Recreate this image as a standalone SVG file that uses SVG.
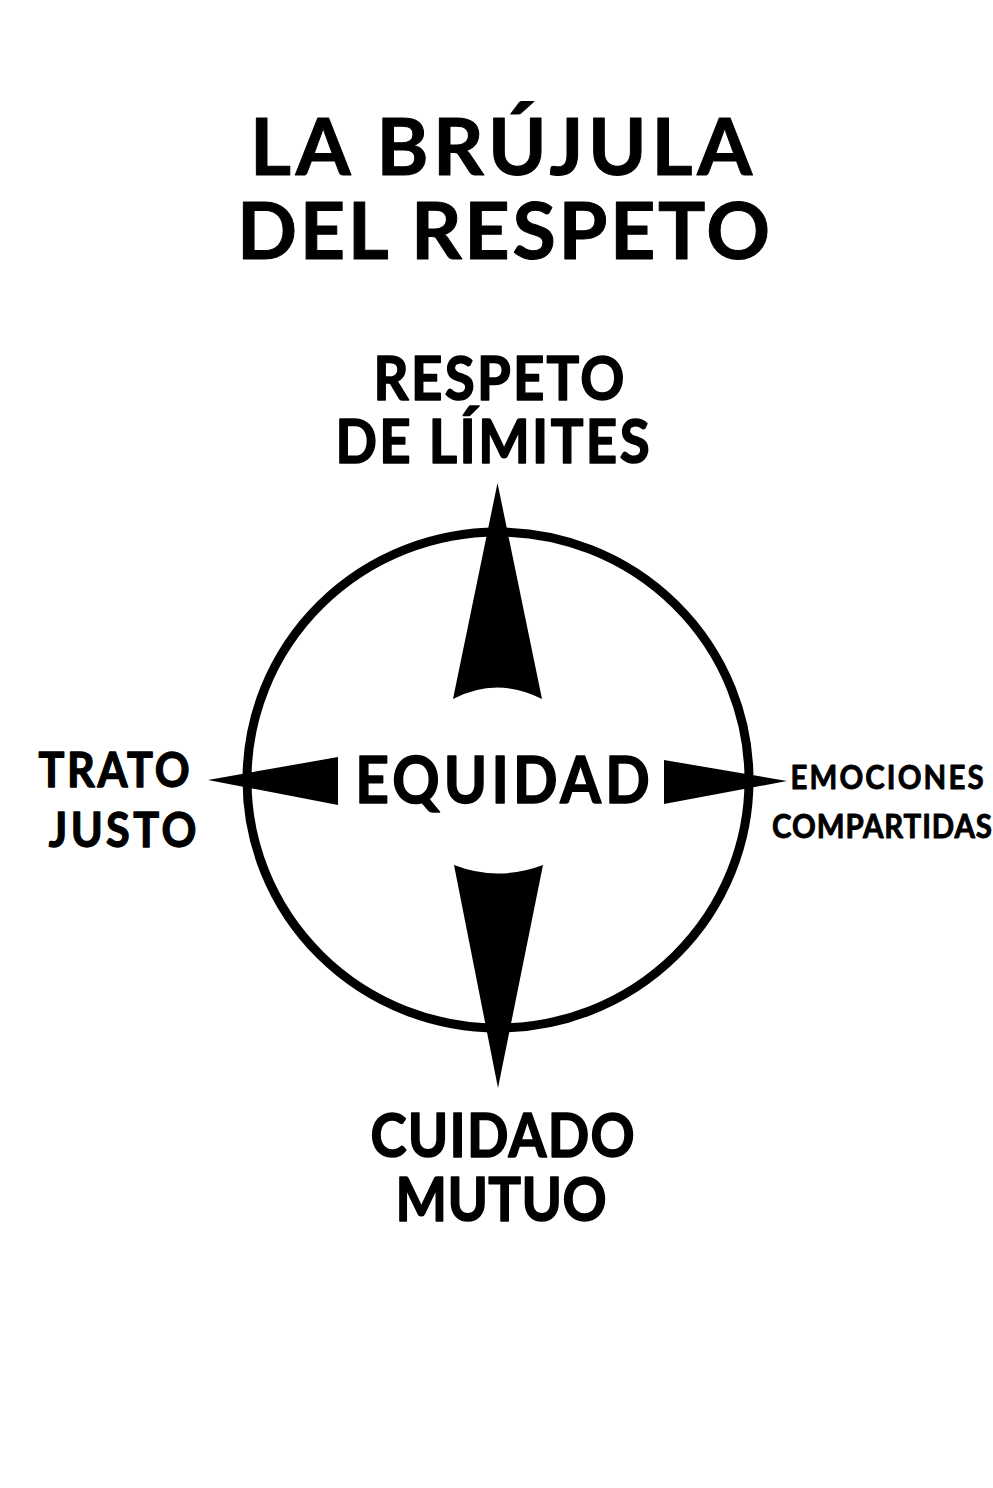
<svg xmlns="http://www.w3.org/2000/svg" width="993" height="1488" viewBox="0 0 993 1488">
<style>
text{font-family:Lato,"Noto Sans",sans-serif;font-weight:bold;fill:#000;text-anchor:middle;stroke:#000;stroke-linejoin:round}
.title{font-size:79px;stroke-width:1}
.lbl{font-size:62px;stroke-width:1.6}
.side{font-size:48px;stroke-width:1.3}
.small{font-size:32px;stroke-width:0.9}
.center{font-size:65px;stroke-width:1.6}
</style>
<rect width="993" height="1488" fill="#fff"/>
<g id="title">
<text class="title" x="501" y="175" textLength="502" lengthAdjust="spacing">LA BRÚJULA</text>
<text class="title" x="503.5" y="259" textLength="533" lengthAdjust="spacing">DEL RESPETO</text>
</g>
<g id="compass">
<ellipse cx="498" cy="780" rx="251" ry="248" fill="none" stroke="#000" stroke-width="9"/>
</g>
<g id="connectors">
<path d="M497.5,483 L542,699 Q497,676 453,699 Z" fill="#000"/>
<path d="M454,865 Q498,882 543,865 L498,1088 Z" fill="#000"/>
<path d="M208,780 L338,757 L338,805 Z" fill="#000"/>
<path d="M787,781 L664,760 L664,804 Z" fill="#000"/>
</g>
<g id="n-top">
<g transform="translate(499,0) scale(0.88,1)"><text class="lbl" x="0" y="400" textLength="285" lengthAdjust="spacing">RESPETO</text></g>
<g transform="translate(492.5,0) scale(0.88,1)"><text class="lbl" x="0" y="463" textLength="357" lengthAdjust="spacing">DE LÍMITES</text></g>
</g>
<g id="n-center"><g transform="translate(502.5,0) scale(0.9,1)"><text class="center" x="0" y="803" textLength="327" lengthAdjust="spacing">EQUIDAD</text></g></g>
<g id="n-left">
<g transform="translate(114,0) scale(0.9,1)"><text class="side" x="0" y="787" textLength="168" lengthAdjust="spacing">TRATO</text></g>
<g transform="translate(122.5,0) scale(0.9,1)"><text class="side" x="0" y="847" textLength="164" lengthAdjust="spacing">JUSTO</text></g>
</g>
<g id="n-right">
<g transform="translate(887,0) scale(0.92,1)"><text class="small" x="0" y="789" textLength="210" lengthAdjust="spacing">EMOCIONES</text></g>
<g transform="translate(882,0) scale(0.92,1)"><text class="small" x="0" y="838" textLength="239" lengthAdjust="spacing">COMPARTIDAS</text></g>
</g>
<g id="n-bottom">
<g transform="translate(502.5,0) scale(0.88,1)"><text class="lbl" x="0" y="1157" textLength="300" lengthAdjust="spacing">CUIDADO</text></g>
<g transform="translate(501,0) scale(0.88,1)"><text class="lbl" x="0" y="1221" textLength="240" lengthAdjust="spacing">MUTUO</text></g>
</g>
</svg>
